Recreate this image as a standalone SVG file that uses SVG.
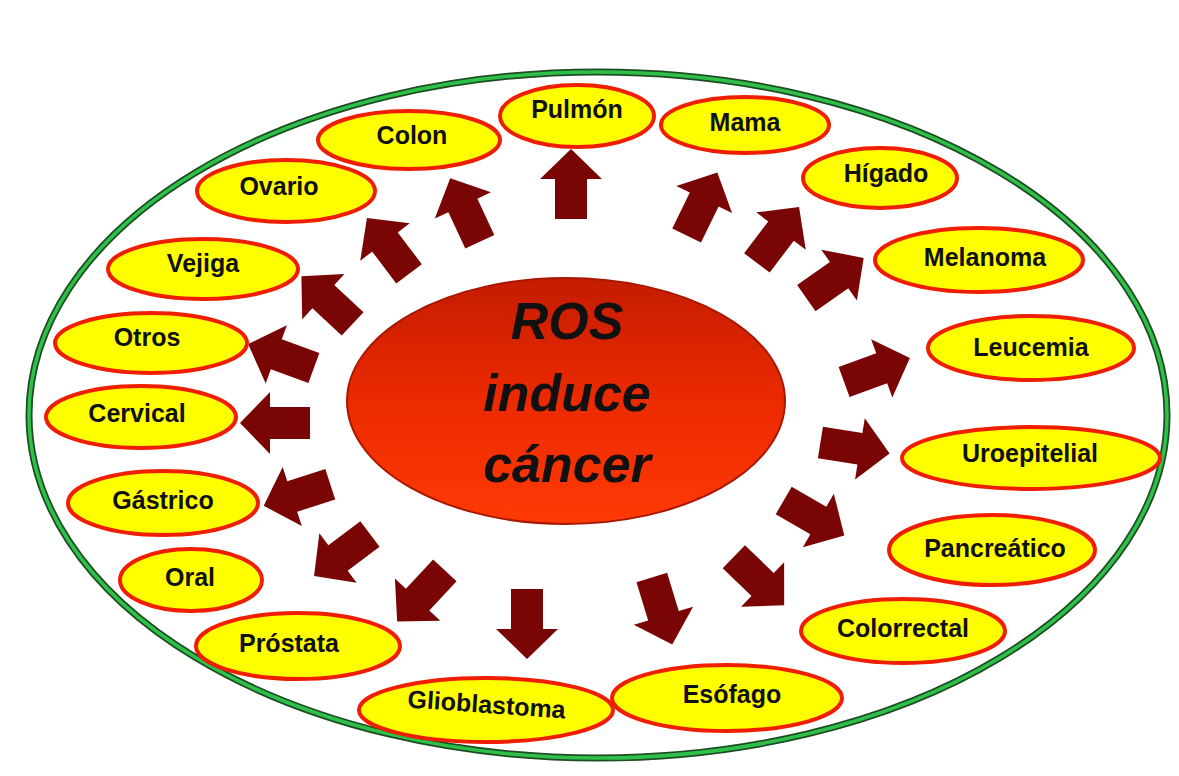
<svg xmlns="http://www.w3.org/2000/svg" xmlns:xlink="http://www.w3.org/1999/xlink" width="1179" height="776" viewBox="0 0 1179 776">
<defs>
<style>
.node ellipse{fill:#ffff00;stroke:#f01e00;stroke-width:4}
.node text{font-family:"Liberation Sans",Arial,sans-serif;font-weight:bold;font-size:25px;fill:#111;text-anchor:middle}
.center-text{font-family:"Liberation Sans",Arial,sans-serif;font-weight:bold;font-style:italic;font-size:52px;fill:#111;text-anchor:middle}
.arrow{fill:#7a0505}
</style>
<linearGradient id="redgrad" x1="0" y1="0" x2="0" y2="1">
<stop offset="0" stop-color="#c41c00"/>
<stop offset="0.5" stop-color="#ec2a00"/>
<stop offset="1" stop-color="#ff3a06"/>
</linearGradient>
<path id="arr" d="M0,-35 L31,-5 L16,-5 L16,35 L-16,35 L-16,-5 L-31,-5 Z"/>
</defs>
<rect width="1179" height="776" fill="#ffffff"/>
<g id="outer">
<ellipse cx="598" cy="415" rx="569" ry="343" fill="none" stroke="#1d4d22" stroke-width="7"/>
<ellipse cx="598" cy="415" rx="569" ry="343" fill="none" stroke="#2fc04a" stroke-width="3.5"/>
</g>
<g id="center">
<ellipse cx="566" cy="401" rx="219" ry="123" fill="url(#redgrad)" stroke="#a81800" stroke-width="2"/>
<text class="center-text" x="567" y="339">ROS</text>
<text class="center-text" x="567" y="411">induce</text>
<text class="center-text" x="567" y="482">cáncer</text>
</g>
<g id="connectors" class="arrow">
<use xlink:href="#arr" transform="translate(571,184)"/>
<use xlink:href="#arr" transform="translate(465,210) rotate(-25)"/>
<use xlink:href="#arr" transform="translate(388,246) rotate(-37)"/>
<use xlink:href="#arr" transform="translate(327,300) rotate(-47)"/>
<use xlink:href="#arr" transform="translate(281,356) rotate(-70)"/>
<use xlink:href="#arr" transform="translate(275,423) rotate(-90)"/>
<use xlink:href="#arr" transform="translate(297,495) rotate(-108)"/>
<use xlink:href="#arr" transform="translate(342,555) rotate(-127)"/>
<use xlink:href="#arr" transform="translate(421,596) rotate(-137)"/>
<use xlink:href="#arr" transform="translate(527,624) rotate(180)"/>
<use xlink:href="#arr" transform="translate(662,611) rotate(163)"/>
<use xlink:href="#arr" transform="translate(759,581) rotate(134)"/>
<use xlink:href="#arr" transform="translate(814,518) rotate(120)"/>
<use xlink:href="#arr" transform="translate(855,448) rotate(99)"/>
<use xlink:href="#arr" transform="translate(877,370) rotate(70)"/>
<use xlink:href="#arr" transform="translate(835,278) rotate(55)"/>
<use xlink:href="#arr" transform="translate(778,235) rotate(37)"/>
<use xlink:href="#arr" transform="translate(702,204) rotate(26)"/>
</g>
<g id="pulmon" class="node"><ellipse cx="577" cy="116" rx="77" ry="31"/><text x="577" y="118">Pulmón</text></g>
<g id="colon" class="node"><ellipse cx="409" cy="140" rx="91" ry="29"/><text x="412" y="144">Colon</text></g>
<g id="mama" class="node"><ellipse cx="745" cy="125" rx="84" ry="28"/><text x="745" y="131">Mama</text></g>
<g id="ovario" class="node"><ellipse cx="286" cy="191" rx="89" ry="31"/><text x="279" y="195">Ovario</text></g>
<g id="higado" class="node"><ellipse cx="880" cy="178" rx="77" ry="30"/><text x="886" y="182">Hígado</text></g>
<g id="vejiga" class="node"><ellipse cx="203" cy="269" rx="95" ry="30"/><text x="203" y="272">Vejiga</text></g>
<g id="melanoma" class="node"><ellipse cx="979" cy="260" rx="104" ry="32"/><text x="985" y="266">Melanoma</text></g>
<g id="otros" class="node"><ellipse cx="151" cy="343" rx="96" ry="30"/><text x="147" y="346">Otros</text></g>
<g id="leucemia" class="node"><ellipse cx="1031" cy="348" rx="103" ry="32"/><text x="1031" y="356">Leucemia</text></g>
<g id="cervical" class="node"><ellipse cx="141" cy="417" rx="95" ry="31"/><text x="137" y="422">Cervical</text></g>
<g id="uroepitelial" class="node"><ellipse cx="1031" cy="458" rx="129" ry="31"/><text x="1030" y="462">Uroepitelial</text></g>
<g id="gastrico" class="node"><ellipse cx="163" cy="503" rx="95" ry="32"/><text x="163" y="509">Gástrico</text></g>
<g id="pancreatico" class="node"><ellipse cx="992" cy="550" rx="103" ry="35"/><text x="995" y="557">Pancreático</text></g>
<g id="oral" class="node"><ellipse cx="191" cy="580" rx="71" ry="31"/><text x="190" y="586">Oral</text></g>
<g id="prostata" class="node"><ellipse cx="298" cy="646" rx="102" ry="33"/><text x="289" y="652">Próstata</text></g>
<g id="colorrectal" class="node"><ellipse cx="903" cy="631" rx="102" ry="32"/><text x="903" y="637">Colorrectal</text></g>
<g id="glioblastoma" class="node"><ellipse cx="486" cy="710" rx="127" ry="32"/><text x="486" y="713" transform="rotate(4 486 713)">Glioblastoma</text></g>
<g id="esofago" class="node"><ellipse cx="727" cy="698" rx="115" ry="33"/><text x="732" y="703">Esófago</text></g>
</svg>
